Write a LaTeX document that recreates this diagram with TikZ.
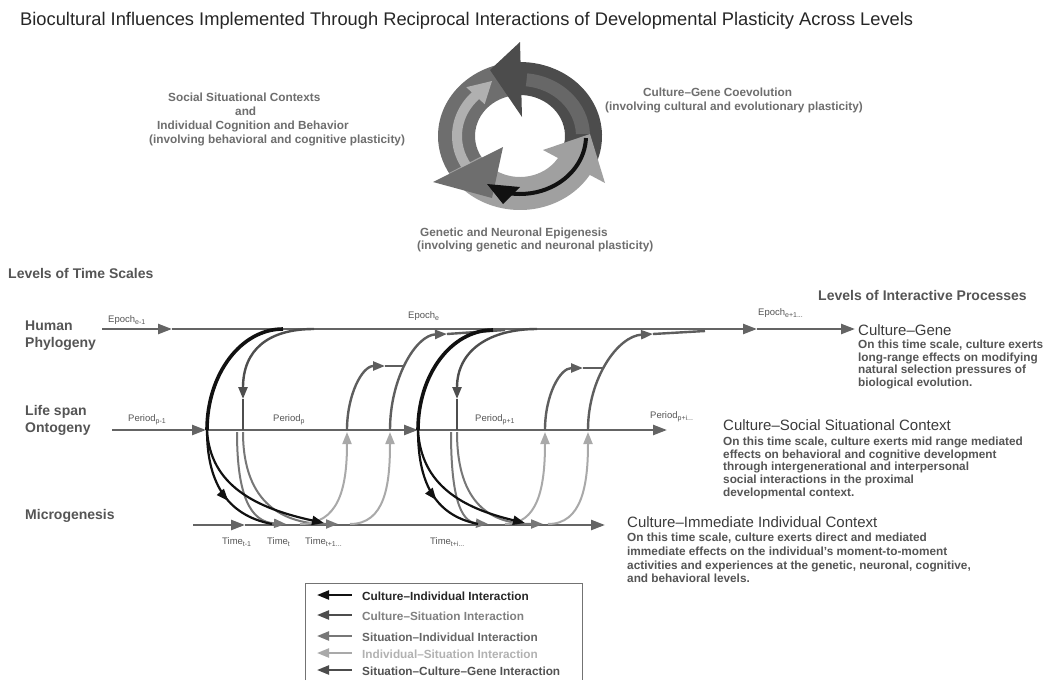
\documentclass[tikz,border=0pt]{standalone}
\usepackage{fontspec}
\setmainfont{Liberation Sans}
\usetikzlibrary{arrows.meta,decorations.markings}

\definecolor{axisg}{HTML}{646464}
\definecolor{cultind}{HTML}{111111}
\definecolor{cultsit}{HTML}{4E4E4E}
\definecolor{sitind}{HTML}{777777}
\definecolor{indsit}{HTML}{A9A9A9}
\definecolor{scg}{HTML}{5E5E5E}
\definecolor{annot}{HTML}{6E6E6E}
\definecolor{bodyg}{HTML}{555555}
\definecolor{headg}{HTML}{3C3C3C}
\definecolor{ringdark}{HTML}{4C4C4C}
\definecolor{ringdarkin}{HTML}{676767}
\definecolor{ringmid}{HTML}{6E6E6E}
\definecolor{ringlight}{HTML}{A0A0A0}
\definecolor{ringpale}{HTML}{B0B0B0}

\newcommand\sbs[1]{\raisebox{-0.45ex}{\fontsize{7}{8}\selectfont #1}}

\tikzset{
  tipbig/.style={-{Triangle[length=14pt,width=10pt]}},
  tipcurve/.style={-{Triangle[length=12pt,width=9pt]}},
  midtip/.style={postaction={decorate,decoration={markings,
      mark=at position #1 with {\arrow{Triangle[length=12pt,width=9pt]}}}}},
  axisline/.style={draw=axisg, line width=2.4pt},
  ci/.style={draw=cultind, line width=2.2pt},
  cithick/.style={draw=cultind, line width=3.6pt},
  cs/.style={draw=cultsit, line width=2.4pt},
  si/.style={draw=sitind, line width=2pt},
  is/.style={draw=indsit, line width=2pt},
  sg/.style={draw=scg, line width=2.4pt},
  annottext/.style={font=\fontsize{11.8}{14}\selectfont\bfseries, text=annot, inner sep=0pt, anchor=base west},
  leveltext/.style={font=\fontsize{14}{16}\selectfont\bfseries, text=bodyg, inner sep=0pt, anchor=base west},
  ticklabel/.style={font=\fontsize{9.5}{11}\selectfont, text=bodyg, inner sep=0pt, anchor=base west},
  proctitle/.style={font=\fontsize{15}{17}\selectfont, text=headg, inner sep=0pt, anchor=base west},
  procbody/.style={font=\fontsize{11.8}{13}\selectfont\bfseries, text=bodyg, inner sep=0pt, anchor=base west},
  keytext/.style={font=\fontsize{11.8}{14}\selectfont\bfseries, inner sep=0pt, anchor=base west},
  keyarrow/.style={line width=2.2pt, {Triangle[length=12pt,width=9pt]}-},
}

\begin{document}
\begin{tikzpicture}[x=1pt,y=-1pt]
\useasboundingbox (0,0) rectangle (1049,680);
\fill[white] (0,0) rectangle (1049,680);

% ---------- title ----------
\node[font=\fontsize{18.3}{20}\selectfont, text=black!85, inner sep=0pt, anchor=base west]
  (title) at (20,25) {Biocultural Influences Implemented Through Reciprocal Interactions of Developmental Plasticity Across Levels};

% ---------- cycle emblem (three counter-rotating ribbon arrows) ----------
\begin{scope}[shift={(520,136)}, yscale=-1]
  % ribbon bands
  \fill[ringdark] (-30:82 and 74) arc[start angle=-30,end angle=92,x radius=82,y radius=74]
      -- (92:45 and 41) arc[start angle=92,end angle=-30,x radius=45,y radius=41] -- cycle;
  \fill[ringmid] (90:82 and 74) arc[start angle=90,end angle=212,x radius=82,y radius=74]
      -- (212:45 and 41) arc[start angle=212,end angle=90,x radius=45,y radius=41] -- cycle;
  \fill[ringlight] (210:82 and 74) arc[start angle=210,end angle=332,x radius=82,y radius=74]
      -- (332:45 and 41) arc[start angle=332,end angle=210,x radius=45,y radius=41] -- cycle;
  % inner shading of the dark ribbon
  \fill[ringdarkin] (2:70 and 63) arc[start angle=2,end angle=84,x radius=70,y radius=63]
      -- (84:56 and 50) arc[start angle=84,end angle=2,x radius=56,y radius=50] -- cycle;
  % pale inner arrow on the left
  \fill[ringpale] (236:68 and 62) arc[start angle=236,end angle=132,x radius=68,y radius=62]
      -- (132:58 and 52) arc[start angle=132,end angle=236,x radius=58,y radius=52] -- cycle;
  \fill[ringpale] (135:50 and 45) -- (135:76 and 69) -- (-28,55) -- cycle;
  % ribbon heads
  \fill[ringdark] (0,94) -- (2,19) -- (-30,66) -- cycle;
  \fill[ringmid] (-87,-46) -- (-17,-11) -- (-28,-62) -- cycle;
  \fill[ringlight] (23,-14) -- (85,-47) -- (70,2) -- cycle;
  % black inner arrow
  \draw[cultind, line width=4pt] (-2:66 and 58) arc[start angle=-2,end angle=-100,x radius=66,y radius=58];
  \fill[cultind] (-33,-48) -- (0,-51) -- (-17,-68) -- cycle;
\end{scope}

% ---------- emblem captions ----------
\node[annottext] (sscA) at (168,101) {Social Situational Contexts};
\node[annottext] (sscB) at (235,115) {and};
\node[annottext] (sscC) at (157,129) {Individual Cognition and Behavior};
\node[annottext] (sscD) at (149,143) {(involving behavioral and cognitive plasticity)};
\node[annottext] (cgcA) at (643,96.5) {Culture--Gene Coevolution};
\node[annottext] (cgcB) at (605,110) {(involving cultural and evolutionary plasticity)};
\node[annottext] (gneA) at (420,236.5) {Genetic and Neuronal Epigenesis};
\node[annottext] (gneB) at (417,249) {(involving genetic and neuronal plasticity)};

% ---------- level headings ----------
\node[leveltext] (lts) at (8,278) {Levels of Time Scales};
\node[leveltext] (lip) at (818,300) {Levels of Interactive Processes};
\node[leveltext] (hp1) at (25,330) {Human};
\node[leveltext] (hp2) at (25,347) {Phylogeny};
\node[leveltext] (lo1) at (25,415) {Life span};
\node[leveltext] (lo2) at (25,432) {Ontogeny};
\node[leveltext] (mg) at (25,519) {Microgenesis};

% ---------- time axes ----------
\coordinate (ph0) at (102,329);
\coordinate (ph1) at (172,329);
\coordinate (ph2) at (757,329);
\coordinate (ph3) at (855,329);
\coordinate (on0) at (112,430);
\coordinate (on1) at (206,430);
\coordinate (on2) at (418,430);
\coordinate (on3) at (667,430);
\coordinate (mi0) at (193,525);
\coordinate (mi1) at (245,525);
\coordinate (mi2) at (605,525);

\draw[axisline, tipbig] (ph0) -- (ph1);
\draw[axisline, tipbig] (ph1) -- (ph2);
\draw[axisline, tipbig] (ph2) -- (ph3);
\draw[axisline, tipbig] (on0) -- (on1);
\draw[axisline, tipbig] (on1) -- (on2);
\draw[axisline, tipbig] (on2) -- (on3);
\draw[axisline, tipbig] (mi0) -- (mi1);
\draw[axisline, tipbig] (mi1) -- (mi2);

% axis labels
\node[ticklabel] (ep1) at (108,322) {Epoch\sbs{e-1}};
\node[ticklabel] (ep2) at (408,318) {Epoch\sbs{e}};
\node[ticklabel] (ep3) at (758,315) {Epoch\sbs{e+1...}};
\node[ticklabel] (pe1) at (128,421) {Period\sbs{p-1}};
\node[ticklabel] (pe2) at (273,421) {Period\sbs{p}};
\node[ticklabel] (pe3) at (475,421) {Period\sbs{p+1}};
\node[ticklabel] (pe4) at (650,418) {Period\sbs{p+i...}};
\node[ticklabel] (ti1) at (222,544) {Time\sbs{t-1}};
\node[ticklabel] (ti2) at (267,544) {Time\sbs{t}};
\node[ticklabel] (ti3) at (305,544) {Time\sbs{t+1...}};
\node[ticklabel] (ti4) at (430,544) {Time\sbs{t+i...}};

% ---------- interaction loops, first block ----------
\coordinate (a1top) at (283,329);
\coordinate (a1on) at (207,430);
\coordinate (a1m1) at (272,524);
\coordinate (a1m2) at (324,523);
\coordinate (b1top) at (314,329);
\coordinate (b1tip) at (243,399);
\coordinate (b1on) at (243,430);
\coordinate (c1s1) at (237,432);
\coordinate (c1e1) at (286,524);
\coordinate (c1s2) at (243,432);
\coordinate (c1e2) at (338,524);
\coordinate (d1s1) at (300,524);
\coordinate (d1e1) at (347,432);
\coordinate (d1s2) at (350,524);
\coordinate (d1e2) at (390,432);
\coordinate (e1s1) at (347,430);
\coordinate (e1t1) at (385,366);
\coordinate (e1j1) at (405,366);
\coordinate (e1s2) at (390,430);
\coordinate (e1t2) at (447,334);
\coordinate (e1j2) at (505,330);

\draw[si, tipcurve] (c1s1) .. controls (237,495) and (250,522) .. (c1e1);
\draw[si, tipcurve] (c1s2) .. controls (243,505) and (285,524) .. (c1e2);
\draw[is, tipcurve] (d1s1) .. controls (338,524) and (347,490) .. (d1e1);
\draw[is, tipcurve] (d1s2) .. controls (385,524) and (390,485) .. (d1e2);
\draw[sg, tipcurve] (e1s1) .. controls (347,395) and (362,366) .. (e1t1);
\draw[sg] (e1t1) -- (e1j1);
\draw[sg, tipcurve] (e1s2) .. controls (390,378) and (416,335) .. (e1t2);
\draw[sg] (e1t2) -- (e1j2);
\draw[cs, tipcurve] (b1top) .. controls (268,329) and (243,350) .. (b1tip);
\draw[cs] (b1tip) -- (b1on);
\draw[cithick] (a1top) .. controls (241,329) and (207,374) .. (a1on);
\draw[ci, midtip=0.6] (a1on) .. controls (207,480) and (225,515) .. (a1m1);
\draw[ci, tipcurve] (a1on) .. controls (210,485) and (255,508) .. (a1m2);

% ---------- interaction loops, second block ----------
\coordinate (a2top) at (493,330);
\coordinate (a2on) at (418,430);
\coordinate (a2m1) at (478,524);
\coordinate (a2m2) at (525,523);
\coordinate (b2top) at (537,329);
\coordinate (b2tip) at (457,399);
\coordinate (b2on) at (457,430);
\coordinate (c2s1) at (451,432);
\coordinate (c2e1) at (488,524);
\coordinate (c2s2) at (457,432);
\coordinate (c2e2) at (543,524);
\coordinate (d2s1) at (505,524);
\coordinate (d2e1) at (545,432);
\coordinate (d2s2) at (548,524);
\coordinate (d2e2) at (588,432);
\coordinate (e2s1) at (545,430);
\coordinate (e2t1) at (583,368);
\coordinate (e2j1) at (603,368);
\coordinate (e2s2) at (588,430);
\coordinate (e2t2) at (653,334);
\coordinate (e2j2) at (705,331);

\draw[si, tipcurve] (c2s1) .. controls (451,495) and (460,522) .. (c2e1);
\draw[si, tipcurve] (c2s2) .. controls (457,505) and (492,524) .. (c2e2);
\draw[is, tipcurve] (d2s1) .. controls (537,524) and (545,490) .. (d2e1);
\draw[is, tipcurve] (d2s2) .. controls (582,524) and (588,485) .. (d2e2);
\draw[sg, tipcurve] (e2s1) .. controls (545,395) and (560,368) .. (e2t1);
\draw[sg] (e2t1) -- (e2j1);
\draw[sg, tipcurve] (e2s2) .. controls (588,378) and (618,336) .. (e2t2);
\draw[sg] (e2t2) -- (e2j2);
\draw[cs, tipcurve] (b2top) .. controls (490,329) and (457,350) .. (b2tip);
\draw[cs] (b2tip) -- (b2on);
\draw[cithick] (a2top) .. controls (451,330) and (418,375) .. (a2on);
\draw[ci, midtip=0.6] (a2on) .. controls (418,480) and (433,515) .. (a2m1);
\draw[ci, tipcurve] (a2on) .. controls (421,485) and (462,508) .. (a2m2);

% ---------- process descriptions ----------
\node[proctitle] (cgT) at (858,335) {Culture--Gene};
\node[procbody] (cgB1) at (858,348) {On this time scale, culture exerts};
\node[procbody] (cgB2) at (858,361) {long-range effects on modifying};
\node[procbody] (cgB3) at (858,373.5) {natural selection pressures of};
\node[procbody] (cgB4) at (858,386) {biological evolution.};

\node[proctitle] (csT) at (723,430) {Culture--Social Situational Context};
\node[procbody] (csB1) at (723,445.5) {On this time scale, culture exerts mid range mediated};
\node[procbody] (csB2) at (723,458.2) {effects on behavioral and cognitive development};
\node[procbody] (csB3) at (723,470.9) {through intergenerational and interpersonal};
\node[procbody] (csB4) at (723,483.6) {social interactions in the proximal};
\node[procbody] (csB5) at (723,496.3) {developmental context.};

\node[proctitle] (ciT) at (627,527) {Culture--Immediate Individual Context};
\node[procbody] (ciB1) at (627,541.5) {On this time scale, culture exerts direct and mediated};
\node[procbody] (ciB2) at (627,555.3) {immediate effects on the individual's moment-to-moment};
\node[procbody] (ciB3) at (627,569.1) {activities and experiences at the genetic, neuronal, cognitive,};
\node[procbody] (ciB4) at (627,582.9) {and behavioral levels.};

% ---------- key ----------
\draw[draw=black!55, line width=1pt] (305,680) -- (305,583) -- (582,583) -- (582,680);
\coordinate (k1a) at (317,595); \coordinate (k1b) at (352,595);
\coordinate (k2a) at (317,615); \coordinate (k2b) at (352,615);
\coordinate (k3a) at (317,636); \coordinate (k3b) at (352,636);
\coordinate (k4a) at (317,653); \coordinate (k4b) at (352,653);
\coordinate (k5a) at (317,670); \coordinate (k5b) at (352,670);
\draw[keyarrow, cultind] (k1a) -- (k1b);
\draw[keyarrow, cultsit] (k2a) -- (k2b);
\draw[keyarrow, sitind] (k3a) -- (k3b);
\draw[keyarrow, indsit] (k4a) -- (k4b);
\draw[keyarrow, black!70] (k5a) -- (k5b);
\node[keytext, text=black!85] (k1t) at (362,600) {Culture--Individual Interaction};
\node[keytext, text=black!50] (k2t) at (362,620) {Culture--Situation Interaction};
\node[keytext, text=black!60] (k3t) at (362,641) {Situation--Individual Interaction};
\node[keytext, text=black!30] (k4t) at (362,658) {Individual--Situation Interaction};
\node[keytext, text=black!68] (k5t) at (362,675) {Situation--Culture--Gene Interaction};
\end{tikzpicture}
\end{document}
